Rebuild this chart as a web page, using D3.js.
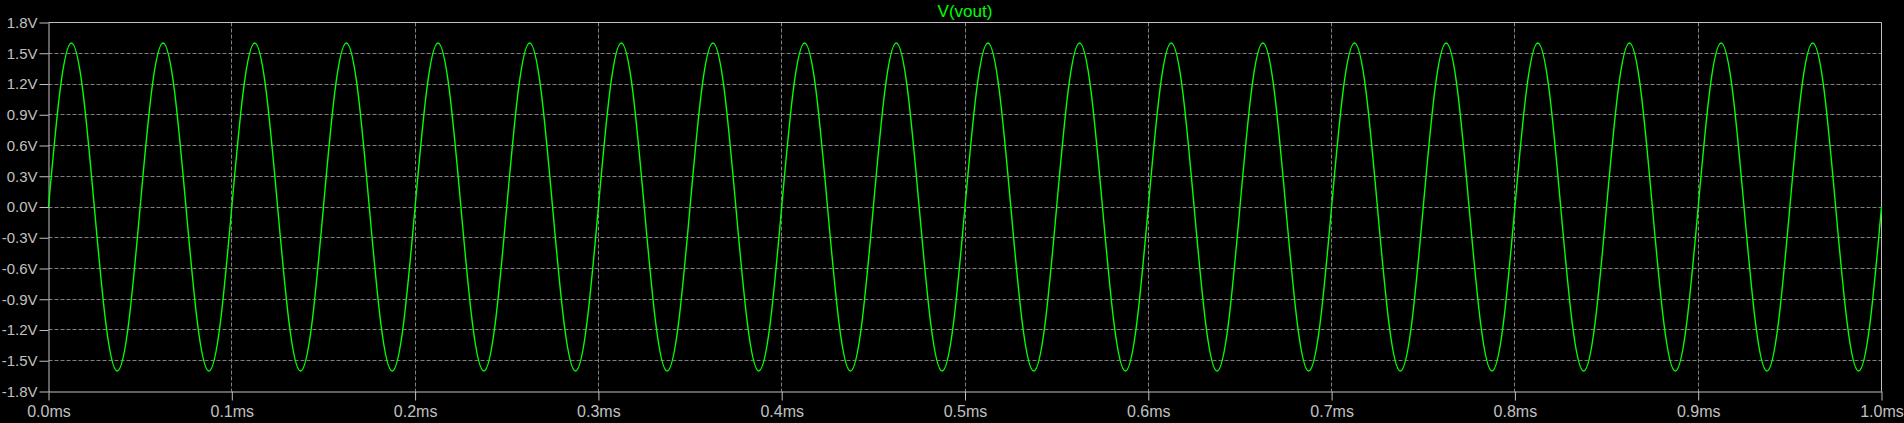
<!DOCTYPE html>
<html>
<head>
<meta charset="utf-8">
<script src="https://cdn.jsdelivr.net/npm/d3@7"></script>
<style>
  html, body { margin: 0; padding: 0; background: #000; }
  svg { display: block; }
</style>
</head>
<body>
<svg id="chart" width="1904" height="423"></svg>
<script>
// ---- data ----
const traceName = "V(vout)";
const sampleStepMs = 0.00625;           // samples every 1/8 period of the 20 kHz wave
const voutValues = [
  0, 1.13, 1.6, 1.13, 0, -1.13, -1.6, -1.13,
  0, 1.13, 1.6, 1.13, 0, -1.13, -1.6, -1.13,
  0, 1.13, 1.6, 1.13, 0, -1.13, -1.6, -1.13,
  0, 1.13, 1.6, 1.13, 0, -1.13, -1.6, -1.13,
  0, 1.13, 1.6, 1.13, 0, -1.13, -1.6, -1.13,
  0, 1.13, 1.6, 1.13, 0, -1.13, -1.6, -1.13,
  0, 1.13, 1.6, 1.13, 0, -1.13, -1.6, -1.13,
  0, 1.13, 1.6, 1.13, 0, -1.13, -1.6, -1.13,
  0, 1.13, 1.6, 1.13, 0, -1.13, -1.6, -1.13,
  0, 1.13, 1.6, 1.13, 0, -1.13, -1.6, -1.13,
  0, 1.13, 1.6, 1.13, 0, -1.13, -1.6, -1.13,
  0, 1.13, 1.6, 1.13, 0, -1.13, -1.6, -1.13,
  0, 1.13, 1.6, 1.13, 0, -1.13, -1.6, -1.13,
  0, 1.13, 1.6, 1.13, 0, -1.13, -1.6, -1.13,
  0, 1.13, 1.6, 1.13, 0, -1.13, -1.6, -1.13,
  0, 1.13, 1.6, 1.13, 0, -1.13, -1.6, -1.13,
  0, 1.13, 1.6, 1.13, 0, -1.13, -1.6, -1.13,
  0, 1.13, 1.6, 1.13, 0, -1.13, -1.6, -1.13,
  0, 1.13, 1.6, 1.13, 0, -1.13, -1.6, -1.13,
  0, 1.13, 1.6, 1.13, 0, -1.13, -1.6, -1.13,
  0
];
const yTickValues = [-1.8, -1.5, -1.2, -0.9, -0.6, -0.3, 0.0, 0.3, 0.6, 0.9, 1.2, 1.5, 1.8];
const yTickLabels = ["-1.8V", "-1.5V", "-1.2V", "-0.9V", "-0.6V", "-0.3V", "0.0V", "0.3V", "0.6V", "0.9V", "1.2V", "1.5V", "1.8V"];
const xTickValues = [0.0, 0.1, 0.2, 0.3, 0.4, 0.5, 0.6, 0.7, 0.8, 0.9, 1.0];
const xTickLabels = ["0.0ms", "0.1ms", "0.2ms", "0.3ms", "0.4ms", "0.5ms", "0.6ms", "0.7ms", "0.8ms", "0.9ms", "1.0ms"];

// ---- layout ----
const pLeft = 48.5, pRight = 1881.5, pTop = 22.5, pBottom = 391.5;
const axisColor = "#c0c0c0", gridColor = "#808080", traceColor = "#00ff00";
const font = "'Liberation Sans', Arial, sans-serif";

const svg = d3.select("#chart");
svg.append("rect").attr("width", 1904).attr("height", 423).attr("fill", "#000");

const x = d3.scaleLinear().domain([0, 1]).range([pLeft, pRight]);
const y = d3.scaleLinear().domain([-1.8, 1.8]).range([pBottom, pTop]);

// grid
const grid = svg.append("g");
grid.selectAll("line.hg").data(yTickValues.filter(v => Math.abs(v) < 1.79)).join("line")
  .attr("x1", pLeft).attr("x2", pRight)
  .attr("y1", d => Math.round(y(d) - 0.5) + 0.5).attr("y2", d => Math.round(y(d) - 0.5) + 0.5)
  .attr("stroke", gridColor).attr("stroke-width", 1).attr("stroke-dasharray", "4,2");
grid.selectAll("line.vg").data(xTickValues.filter(v => v > 0.001 && v < 0.999)).join("line")
  .attr("y1", pTop).attr("y2", pBottom)
  .attr("x1", d => Math.round(x(d) - 0.5) + 0.5).attr("x2", d => Math.round(x(d) - 0.5) + 0.5)
  .attr("stroke", gridColor).attr("stroke-width", 1).attr("stroke-dasharray", "4,2");

// axes
const yAxis = d3.axisLeft(y).tickValues(yTickValues)
  .tickFormat((d, i) => yTickLabels[i]).tickSizeInner(9).tickSizeOuter(0).tickPadding(2);
const gy = svg.append("g").attr("transform", `translate(${pLeft},0)`).call(yAxis);
const xAxis = d3.axisBottom(x).tickValues(xTickValues)
  .tickFormat((d, i) => xTickLabels[i]).tickSizeInner(9).tickSizeOuter(0).tickPadding(5);
const gx = svg.append("g").attr("transform", `translate(0,${pBottom})`).call(xAxis);
[gy, gx].forEach(g => {
  g.select(".domain").attr("stroke", axisColor);
  g.selectAll(".tick line").attr("stroke", axisColor);
  g.selectAll(".tick text").attr("fill", axisColor).style("font-family", font);
});
gy.selectAll(".tick text").style("font-size", "15px");
gx.selectAll(".tick text").style("font-size", "16px").attr("dy", "0.71em");

// top and right border
svg.append("line").attr("x1", pLeft).attr("x2", pRight).attr("y1", pTop).attr("y2", pTop)
  .attr("stroke", axisColor);
svg.append("line").attr("x1", pRight).attr("x2", pRight).attr("y1", pTop).attr("y2", pBottom)
  .attr("stroke", axisColor);

// trace
const line = d3.line()
  .x((d, i) => x(i * sampleStepMs))
  .y(d => y(d))
  .curve(d3.curveNatural);
svg.append("path").datum(voutValues)
  .attr("d", line)
  .attr("fill", "none")
  .attr("stroke", traceColor)
  .attr("stroke-width", 1.4);

// title
svg.append("text").attr("x", (pLeft + pRight) / 2).attr("y", 17)
  .attr("text-anchor", "middle").attr("fill", traceColor)
  .style("font-family", font).style("font-size", "17px")
  .text(traceName);
</script>
</body>
</html>
